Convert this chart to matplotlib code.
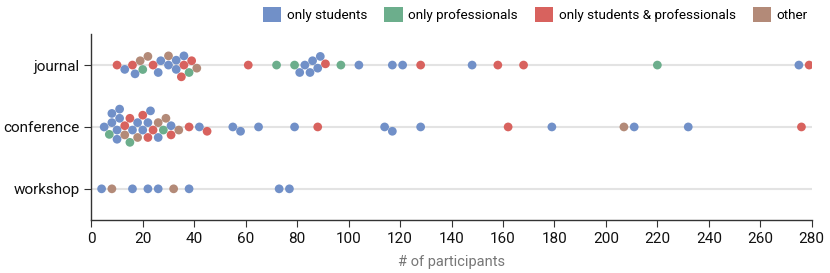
import pandas as pd
import matplotlib
matplotlib.use("Agg")
import matplotlib.pyplot as plt
from matplotlib.patches import Patch
import seaborn as sns

plt.rcParams["font.family"] = ["Roboto", "DejaVu Sans"]

# ── Data ───────────────────────────────────────────────────────
VENUES = ["journal", "conference", "workshop"]
GROUPS = ["only students", "only professionals",
          "only students & professionals", "other"]
COLORS = ["#7190c8", "#6cae8c", "#d8625e", "#b38a78"]

journal_students = [13, 17, 26, 27, 30, 33, 33, 36, 81, 83, 85, 86, 88, 89,
                    104, 117, 121, 148, 275]
journal_profs = [20, 38, 72, 79, 97, 220]
journal_both = [10, 16, 24, 35, 36, 39, 61, 91, 128, 158, 168, 279]
journal_other = [19, 22, 30, 41]

conf_students = [5, 8, 8, 10, 10, 11, 11, 16, 18, 20, 22, 23, 26, 31, 42,
                 55, 58, 65, 79, 114, 117, 128, 179, 211, 232]
conf_profs = [7, 15, 28]
conf_both = [13, 15, 20, 22, 24, 31, 38, 45, 88, 162, 276]
conf_other = [13, 18, 26, 29, 34, 207]

workshop_students = [4, 16, 22, 26, 38, 73, 77]
workshop_profs = []
workshop_both = []
workshop_other = [8, 32]

series = {
    "journal": [journal_students, journal_profs, journal_both, journal_other],
    "conference": [conf_students, conf_profs, conf_both, conf_other],
    "workshop": [workshop_students, workshop_profs, workshop_both, workshop_other],
}

rows = []
for venue in VENUES:
    for grp, vals in zip(GROUPS, series[venue]):
        for v in vals:
            rows.append((venue, grp, v))
df = pd.DataFrame(rows, columns=["venue", "group", "participants"])

# ── Figure ─────────────────────────────────────────────────────
fig = plt.figure(figsize=(8.3, 2.73), dpi=100)
ax = fig.add_axes([0.11, 0.195, 0.868, 0.68])

for i in range(len(VENUES)):
    ax.axhline(i, color="#e3e3e3", linewidth=1.5, zorder=0)

sns.swarmplot(data=df, x="participants", y="venue", hue="group",
              order=VENUES, hue_order=GROUPS, palette=COLORS,
              orient="h", size=6.3, linewidth=0, ax=ax, legend=False)

ax.set_xlim(0, 280)
ax.set_ylim(2.5, -0.5)
ax.set_xticks(range(0, 281, 20))
ax.set_ylabel("")
ax.set_xlabel("# of participants", color="#777777", fontsize=10.5, labelpad=7)
ax.tick_params(axis="both", labelsize=11, color="#333333", length=5,
               labelcolor="#111111")
for s in ("top", "right"):
    ax.spines[s].set_visible(False)
for s in ("left", "bottom"):
    ax.spines[s].set_color("#333333")
    ax.spines[s].set_linewidth(1)

handles = [Patch(facecolor=c, edgecolor="none") for c in COLORS]
fig.legend(handles, GROUPS, loc="upper right", bbox_to_anchor=(0.988, 1.02),
           ncol=4, frameon=False, fontsize=9.7, handlelength=1.35,
           handleheight=1.35, handletextpad=0.4, columnspacing=1.3)

fig.savefig("out.png", dpi=100)
